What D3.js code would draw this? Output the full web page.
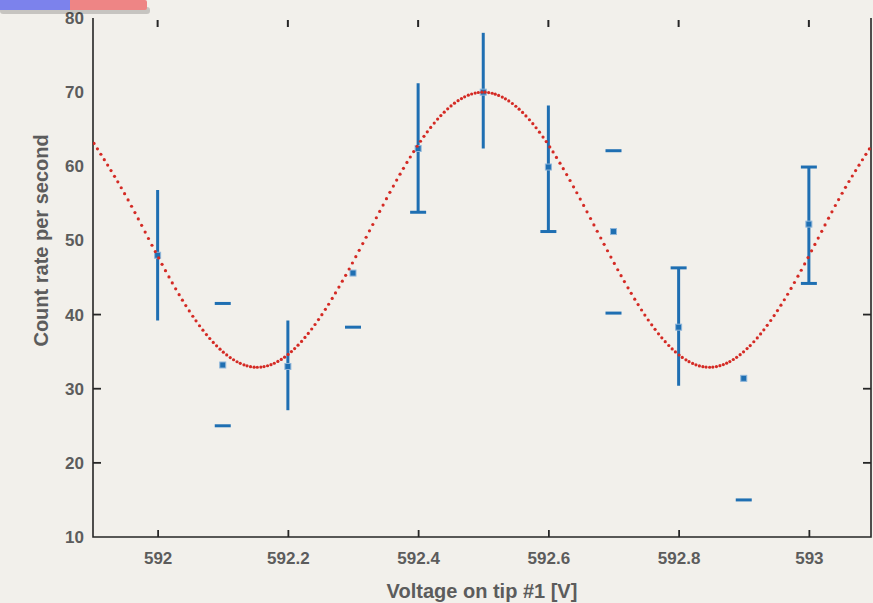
<!DOCTYPE html>
<html>
<head>
<meta charset="utf-8">
<script src="https://cdn.jsdelivr.net/npm/d3@7"></script>
<style>
  html, body { margin: 0; padding: 0; background: #f2f0eb; }
  svg { display: block; }
</style>
</head>
<body>
<div id="chart"></div>
<script>
// Count rate vs. tip voltage — measured points with error bars and the fitted curve.

const voltages = [592.0, 592.1, 592.2, 592.3, 592.4, 592.5, 592.6, 592.7, 592.8, 592.9, 593.0];
const counts   = [48.0, 33.2, 33.0, 45.6, 62.4, 70.0, 59.9, 51.2, 38.3, 31.4, 52.2];
const errLow   = [39.2, 25.0, 27.1, 38.3, 53.8, 62.4, 51.2, 40.2, 30.4, 15.0, 44.2];
const errHigh  = [56.8, 41.5, 39.2, 52.9, 71.2, 78.0, 68.2, 62.1, 46.3, 47.8, 59.9];

// fitted curve
const fitX = [591.90, 591.95, 592.00, 592.05, 592.10, 592.15, 592.20, 592.25, 592.30, 592.35,
              592.40, 592.45, 592.50, 592.55, 592.60, 592.65, 592.70, 592.75, 592.80, 592.85,
              592.90, 592.95, 593.00, 593.05, 593.10];
const fitY = [63.4, 56.2, 47.9, 40.3, 35.0, 32.9, 34.6, 39.7, 47.1, 55.4,
              62.9, 68.1, 70.0, 68.1, 62.9, 55.4, 47.1, 39.7, 34.6, 32.9,
              35.0, 40.3, 47.9, 56.2, 63.3];

const xTicks = [592.0, 592.2, 592.4, 592.6, 592.8, 593.0];
const xTickLabels = ['592', '592.2', '592.4', '592.6', '592.8', '593'];
const yTicks = [10, 20, 30, 40, 50, 60, 70, 80];
const yInnerTicks = [20, 30, 40];

// which parts of each error bar survive in the picture: [stem, low cap, high cap]
const barParts = [
  [1, 0, 0], [0, 1, 1], [1, 0, 0], [0, 1, 0], [1, 1, 0], [1, 0, 0],
  [1, 1, 0], [0, 1, 1], [1, 0, 1], [0, 1, 0], [1, 1, 1],
];

const W = 873, H = 603;
const BLUE = '#1f6fb2', RED = '#d42a24', INK = '#262626', LABEL = '#5c5c5c';
const FONT = '"Liberation Sans", Arial, sans-serif';

const svg = d3.select('#chart').append('svg')
  .attr('width', W).attr('height', H)
  .attr('viewBox', `0 0 ${W} ${H}`);

svg.append('rect').attr('width', W).attr('height', H).attr('fill', '#f2f0eb');

const x = d3.scaleLinear().domain([591.9, 593.1]).range([92.5, 874]);
const y = d3.scaleLinear().domain([10, 80]).range([537, 18]);
const pL = 93, pR = 871, pB = y(10), pT = 18;

svg.append('defs').append('clipPath').attr('id', 'plot')
  .append('rect').attr('x', pL).attr('y', 0).attr('width', pR - pL).attr('height', pB);

// frame: left, bottom, right (top is cropped off)
svg.append('path')
  .attr('d', `M${pL},${pT} V${pB} H${pR} V${pT}`)
  .attr('fill', 'none').attr('stroke', INK).attr('stroke-width', 1.6);

// bottom axis labels + upward ticks
const xAxis = svg.append('g')
  .attr('transform', `translate(0,${pB})`)
  .call(d3.axisBottom(x).tickValues(xTicks).tickSize(-7).tickPadding(15)
    .tickFormat((d, i) => xTickLabels[i]));
xAxis.select('.domain').remove();
xAxis.selectAll('line').attr('stroke', INK).attr('stroke-width', 1.8);
xAxis.selectAll('text')
  .attr('font-family', FONT).attr('font-size', 17).attr('font-weight', 'bold')
  .attr('fill', LABEL);

// short marks along the cropped top edge
svg.append('g').selectAll('line').data(xTicks).join('line')
  .attr('x1', d => x(d)).attr('x2', d => x(d))
  .attr('y1', pT + 2).attr('y2', pT + 9)
  .attr('stroke', INK).attr('stroke-width', 2);

// left axis labels
const yAxis = svg.append('g')
  .attr('transform', `translate(${pL},0)`)
  .call(d3.axisLeft(y).tickValues(yTicks).tickSize(0).tickPadding(9));
yAxis.select('.domain').remove();
yAxis.selectAll('text')
  .attr('font-family', FONT).attr('font-size', 17).attr('font-weight', 'bold')
  .attr('fill', LABEL);

// inner y ticks on both sides
svg.append('g').selectAll('line').data(yInnerTicks).join('line')
  .attr('x1', pL).attr('x2', pL + 8)
  .attr('y1', d => y(d)).attr('y2', d => y(d))
  .attr('stroke', INK).attr('stroke-width', 1.8);
svg.append('g').selectAll('line').data(yInnerTicks).join('line')
  .attr('x1', pR - 8).attr('x2', pR)
  .attr('y1', d => y(d)).attr('y2', d => y(d))
  .attr('stroke', INK).attr('stroke-width', 1.8);

// axis titles
svg.append('text')
  .attr('x', (pL + pR) / 2).attr('y', 598)
  .attr('text-anchor', 'middle')
  .attr('font-family', FONT).attr('font-size', 20).attr('font-weight', 'bold')
  .attr('fill', LABEL)
  .text('Voltage on tip #1 [V]');
svg.append('text')
  .attr('transform', `translate(48,${y(50)}) rotate(-90)`)
  .attr('text-anchor', 'middle')
  .attr('font-family', FONT).attr('font-size', 20).attr('font-weight', 'bold')
  .attr('fill', LABEL)
  .text('Count rate per second');

// error bars
const data = voltages.map((v, i) => ({ v, c: counts[i], lo: errLow[i], hi: errHigh[i], parts: barParts[i] }));
const bars = svg.append('g').attr('stroke', BLUE).attr('stroke-width', 3).attr('clip-path', 'url(#plot)');
const capHalf = 8;
data.forEach(d => {
  const cx = x(d.v);
  if (d.parts[0]) bars.append('line').attr('x1', cx).attr('x2', cx).attr('y1', y(d.hi)).attr('y2', y(d.lo));
  if (d.parts[1]) bars.append('line').attr('x1', cx - capHalf).attr('x2', cx + capHalf).attr('y1', y(d.lo)).attr('y2', y(d.lo));
  if (d.parts[2]) bars.append('line').attr('x1', cx - capHalf).attr('x2', cx + capHalf).attr('y1', y(d.hi)).attr('y2', y(d.hi));
});

// point markers
svg.append('g').selectAll('rect').data(data).join('rect')
  .attr('x', d => x(d.v) - 3).attr('y', d => y(d.c) - 3)
  .attr('width', 6).attr('height', 6)
  .attr('fill', BLUE).attr('stroke', '#8fb6da').attr('stroke-width', 1);

// fitted curve drawn as dots at even steps in x, as the original plot did
const fitLine = d3.line().x(d => x(d[0])).y(d => y(d[1])).curve(d3.curveNatural);
const guide = svg.append('path')
  .attr('d', fitLine(fitX.map((v, i) => [v, fitY[i]])))
  .attr('fill', 'none').attr('stroke', 'none');
const node = guide.node();
const total = node.getTotalLength();
const samples = [];
for (let l = 0; l <= total; l += 0.4) samples.push(node.getPointAtLength(l));
const dots = [];
let k = 0;
for (let px = pL + 1; px <= pR; px += 3.4) {
  while (k < samples.length - 1 && samples[k].x < px) k++;
  dots.push(samples[k]);
}
svg.append('g').attr('clip-path', 'url(#plot)')
  .selectAll('circle').data(dots).join('circle')
  .attr('cx', d => d.x).attr('cy', d => d.y).attr('r', 1.6)
  .attr('fill', RED);

// slide toolbar strip in the corner
const strip = svg.append('g');
strip.append('rect').attr('x', 0).attr('y', 7).attr('width', 150).attr('height', 7)
  .attr('rx', 3).attr('fill', '#000').attr('opacity', 0.18);
strip.append('rect').attr('x', 0).attr('y', 0).attr('width', 72).attr('height', 10).attr('fill', '#7c82ec');
strip.append('rect').attr('x', 70).attr('y', 0).attr('width', 77).attr('height', 10)
  .attr('rx', 2).attr('fill', '#ee8585');
strip.append('rect').attr('x', 70).attr('y', 0).attr('width', 10).attr('height', 10).attr('fill', '#ee8585');
</script>
</body>
</html>
